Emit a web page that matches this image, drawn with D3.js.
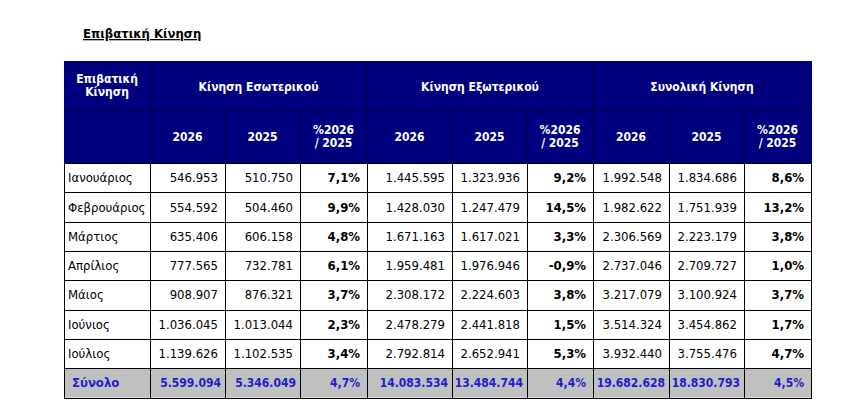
<!DOCTYPE html>
<html><head><meta charset="utf-8">
<script src="https://cdn.jsdelivr.net/npm/d3@7"></script>
<style>
html,body{margin:0;padding:0;background:#fff;}
svg{display:block;}
text{font-family:"DejaVu Sans Condensed","DejaVu Sans",Tahoma,sans-serif;font-stretch:condensed;}
</style></head>
<body>
<svg id="c" width="846" height="407"></svg>
<script>
// ---- data ----
const title = "Επιβατική Κίνηση";
const rowHeader = ["Επιβατική", "Κίνηση"];
const groups = ["Κίνηση Εσωτερικού", "Κίνηση Εξωτερικού", "Συνολική Κίνηση"];
const subHeaders = [["2026"], ["2025"], ["%2026", "/ 2025"]];
const months = ["Ιανουάριος","Φεβρουάριος","Μάρτιος","Απρίλιος","Μάιος","Ιούνιος","Ιούλιος"];
const totalLabel = "Σύνολο";
const dom2026 = [546953, 554592, 635406, 777565, 908907, 1036045, 1139626];
const dom2025 = [510750, 504460, 606158, 732781, 876321, 1013044, 1102535];
const domPct  = [7.1, 9.9, 4.8, 6.1, 3.7, 2.3, 3.4];
const int2026 = [1445595, 1428030, 1671163, 1959481, 2308172, 2478279, 2792814];
const int2025 = [1323936, 1247479, 1617021, 1976946, 2224603, 2441818, 2652941];
const intPct  = [9.2, 14.5, 3.3, -0.9, 3.8, 1.5, 5.3];
const tot2026 = [1992548, 1982622, 2306569, 2737046, 3217079, 3514324, 3932440];
const tot2025 = [1834686, 1751939, 2223179, 2709727, 3100924, 3454862, 3755476];
const totPct  = [8.6, 13.2, 3.8, 1.0, 3.7, 1.7, 4.7];
const sumRow  = [5599094, 5346049, 4.7, 14083534, 13484744, 4.4, 19682628, 18830793, 4.5];

// ---- layout ----
const svg = d3.select("#c");
const colEdges = [64,150,225,300,367,452,527,593,669,744,811];
const hdrTop = 61, hdrMid = 110, hdrBot = 163, tableBot = 397.5;
const navy = "#00007f", hdrLine = "#00004a", gray = "#c0c0c0", blue = "#1d1dcf";

const loc = d3.formatLocale({decimal: ",", thousands: ".", grouping: [3], currency: ["", ""], minus: "-"});
const fInt = loc.format(",d");
const fPct = v => loc.format(".1f")(v) + "%";

const rowKeys = months.concat([totalLabel]);
const y = d3.scaleBand().domain(rowKeys).range([hdrBot, tableBot]);
const colIdx = d3.range(colEdges.length - 1);
const xL = d3.scaleOrdinal().domain(colIdx).range(colEdges.slice(0, -1));
const xR = d3.scaleOrdinal().domain(colIdx).range(colEdges.slice(1));

// title
svg.append("text").attr("x", 83).attr("y", 38)
  .attr("font-size", 13).attr("font-weight", "bold").attr("fill", "#000")
  .attr("text-decoration", "underline").text(title);

// header background
const hdr = svg.append("g");
hdr.append("rect").attr("x", colEdges[0]).attr("y", hdrTop)
  .attr("width", colEdges[10] - colEdges[0] + 1).attr("height", hdrBot - hdrTop).attr("fill", navy);
const hl = hdr.append("g").attr("stroke", hdrLine).attr("stroke-width", 1).attr("shape-rendering", "crispEdges");
hl.append("line").attr("x1", colEdges[0]).attr("x2", colEdges[10]).attr("y1", hdrMid + 0.5).attr("y2", hdrMid + 0.5);
[1,4,7].forEach(i => hl.append("line").attr("x1", colEdges[i] + 0.5).attr("x2", colEdges[i] + 0.5).attr("y1", hdrTop).attr("y2", hdrBot));
[2,3,5,6,8,9].forEach(i => hl.append("line").attr("x1", colEdges[i] + 0.5).attr("x2", colEdges[i] + 0.5).attr("y1", hdrMid).attr("y2", hdrBot));

function multi(g, cx, cy, lines, size) {
  const lh = 13.5;
  const tx = g.append("text").attr("x", cx).attr("text-anchor", "middle")
    .attr("font-size", size).attr("font-weight", "bold").attr("fill", "#fff");
  lines.forEach((s, i) => tx.append("tspan").attr("x", cx)
    .attr("y", cy + (i - (lines.length - 1) / 2) * lh).attr("dy", "0.35em").text(s));
}
multi(hdr, (colEdges[0] + colEdges[1]) / 2, (hdrTop + hdrMid) / 2, rowHeader, 12);
groups.forEach((gname, i) => {
  const a = colEdges[1 + i * 3], b = colEdges[4 + i * 3];
  multi(hdr, (a + b) / 2, (hdrTop + hdrMid) / 2 + 1, [gname], 12);
  subHeaders.forEach((lines, j) => {
    const c = 1 + i * 3 + j;
    multi(hdr, (colEdges[c] + colEdges[c + 1]) / 2, (hdrMid + hdrBot) / 2, lines, 12);
  });
});

// body rows
const body = svg.append("g");
const rowsData = months.map((m, i) => ({
  label: m, total: false,
  vals: [dom2026[i], dom2025[i], domPct[i], int2026[i], int2025[i], intPct[i], tot2026[i], tot2025[i], totPct[i]]
})).concat([{label: totalLabel, total: true, vals: sumRow}]);

const rg = body.selectAll("g.row").data(rowsData).join("g").attr("class", "row");
rg.filter(d => d.total).append("rect")
  .attr("x", colEdges[0]).attr("y", d => y(d.label))
  .attr("width", colEdges[10] - colEdges[0]).attr("height", y.bandwidth()).attr("fill", gray);

rg.append("text")
  .attr("x", d => xL(0) + (d.total ? 8 : 4))
  .attr("y", d => y(d.label) + y.bandwidth() / 2).attr("dy", "0.35em")
  .attr("font-size", 13).attr("font-weight", d => d.total ? "bold" : "normal")
  .attr("fill", d => d.total ? blue : "#000").text(d => d.label);

rg.selectAll("text.v").data(d => d.vals.map((v, j) => ({v, j, total: d.total, label: d.label})))
  .join("text").attr("class", "v")
  .attr("x", d => xR(d.j + 1) - (d.total && d.j % 3 !== 2 ? 4 : 7))
  .attr("y", d => y(d.label) + y.bandwidth() / 2).attr("dy", "0.35em")
  .attr("text-anchor", "end").attr("font-size", d => d.total ? 12 : 13)
  .attr("font-weight", d => (d.total || d.j % 3 === 2) ? "bold" : "normal")
  .attr("fill", d => d.total ? blue : "#000")
  .text(d => d.j % 3 === 2 ? fPct(d.v) : fInt(d.v));

// body grid lines
const gl = body.append("g").attr("stroke", "#000").attr("stroke-width", 1).attr("shape-rendering", "crispEdges");
rowKeys.forEach(k => gl.append("line").attr("x1", colEdges[0]).attr("x2", colEdges[10] + 1)
  .attr("y1", Math.round(y(k)) + 0.5).attr("y2", Math.round(y(k)) + 0.5));
gl.append("line").attr("x1", colEdges[0]).attr("x2", colEdges[10] + 1)
  .attr("y1", Math.round(tableBot) + 0.5).attr("y2", Math.round(tableBot) + 0.5);
colEdges.forEach(e => gl.append("line").attr("x1", e + 0.5).attr("x2", e + 0.5)
  .attr("y1", hdrBot).attr("y2", Math.round(tableBot) + 1));
</script>
</body></html>
